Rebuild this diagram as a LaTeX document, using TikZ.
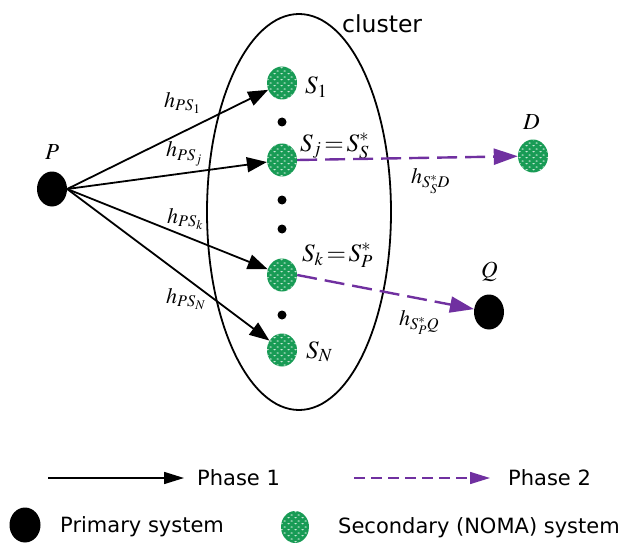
\documentclass[tikz,border=0pt]{standalone}
\usepackage{mathptmx}
\usepackage[no-math]{fontspec}
\setsansfont{DejaVu Sans}
\usetikzlibrary{arrows.meta,shapes.geometric,patterns.meta}
\definecolor{nomagreen}{RGB}{24,155,85}
\definecolor{phasepurple}{RGB}{112,48,160}
\tikzdeclarepattern{
  name=nomadots,
  type=uncolored,
  bounding box={(0pt,0pt) and (7pt,6pt)},
  tile size={(7pt,6pt)},
  code={
    \fill (1.75pt,1.5pt) ellipse [x radius=1.6pt, y radius=0.75pt];
    \fill (5.25pt,4.5pt) ellipse [x radius=1.6pt, y radius=0.75pt];
  }
}
\tikzset{
  secnode/.style={ellipse, minimum width=30pt, minimum height=33pt, inner sep=0pt,
    fill=nomagreen, postaction={pattern=nomadots, pattern color=white!75!nomagreen}},
  prinode/.style={ellipse, fill=black, minimum width=30pt, minimum height=35pt, inner sep=0pt},
  dotnode/.style={circle, fill=black, minimum size=9pt, inner sep=0pt},
  ph1/.style={line width=1.8pt, -{Triangle[length=20pt,width=15pt]}},
  ph2/.style={phasepurple, line width=2.4pt, dash pattern=on 20pt off 8pt, -{Triangle[length=24pt,width=16pt]}},
  mlab/.style={font=\fontsize{25}{27}\selectfont, inner sep=0pt, anchor=base west},
  hlab/.style={font=\fontsize{22}{24}\selectfont, inner sep=0pt, anchor=base west},
  leg/.style={font=\sffamily\fontsize{21}{24}\selectfont, anchor=base west, inner sep=0pt}
}
\begin{document}
\begin{tikzpicture}[x=1pt,y=-1pt]
\useasboundingbox (0,0) rectangle (622,543);
% cluster
\node[draw, ellipse, line width=1.8pt, minimum width=184pt, minimum height=396pt, inner sep=0pt] (cluster) at (299,212) {};
\node[font=\sffamily\fontsize{23.5}{26}\selectfont, anchor=base west, inner sep=0pt] (clab) at (342,33) {cluster};
% nodes
\node[prinode] (P) at (52,189) {};
\node[mlab, font=\fontsize{23}{25}\selectfont] (Plab) at (45,160) {$P$};
\node[secnode] (S1) at (282,83) {};
\node[secnode] (Sj) at (282,160) {};
\node[secnode] (Sk) at (282,275) {};
\node[secnode] (SN) at (282,350) {};
\node[dotnode] (d1) at (282,122) {};
\node[dotnode] (d2) at (282,200) {};
\node[dotnode] (d3) at (282,229) {};
\node[dotnode] (d4) at (282,315) {};
\node[secnode] (D) at (533,156) {};
\node[mlab, font=\fontsize{23}{25}\selectfont] (Dlab) at (523,130) {$D$};
\node[prinode] (Q) at (489,312) {};
\node[mlab, font=\fontsize{23}{25}\selectfont] (Qlab) at (481,277) {$Q$};
% node labels
\node[mlab] (S1lab) at (305,94) {$S_1$};
\node[mlab] (Sjlab) at (300,151) {$S_j\,{=}\,S_S^*$};
\node[mlab] (Sklab) at (302,261) {$S_k\,{=}\,S_P^*$};
\node[mlab] (SNlab) at (306,358) {$S_N$};
% phase 1 arrows
\draw[ph1] (P.east) -- (S1);
\draw[ph1] (P.east) -- (Sj);
\draw[ph1] (P.east) -- (Sk);
\draw[ph1] (P.east) -- (SN);
\node[hlab] (h1) at (164,107) {$h_{PS_1}$};
\node[hlab] (hj) at (166,157) {$h_{PS_j}$};
\node[hlab] (hk) at (167,223) {$h_{PS_k}$};
\node[hlab] (hN) at (166,303) {$h_{PS_N}$};
% phase 2 arrows
\draw[ph2] (Sj.east) -- (D);
\draw[ph2] (Sk.east) -- (Q);
\node[hlab] (hD) at (411,183) {$h_{S_S^*D}$};
\node[hlab] (hQ) at (399,325) {$h_{S_P^*Q}$};
% legend
\coordinate (l1a) at (48,478);
\coordinate (l1b) at (184,478);
\draw[line width=1.6pt, -{Triangle[length=20pt,width=12pt]}] (l1a) -- (l1b);
\node[leg] (l1t) at (197,485) {Phase 1};
\coordinate (l2a) at (354,478);
\coordinate (l2b) at (490,478);
\draw[phasepurple, line width=1.6pt, dash pattern=on 11pt off 6pt, -{Triangle[length=20pt,width=12pt]}] (l2a) -- (l2b);
\node[leg] (l2t) at (508,485) {Phase 2};
\node[prinode, minimum width=31pt, minimum height=35pt] (lp) at (25,525) {};
\node[leg] (lpt) at (60,532) {Primary system};
\node[secnode, minimum width=28pt, minimum height=32pt] (ls) at (295,527) {};
\node[leg] (lst) at (338,533) {Secondary (NOMA) system};
\end{tikzpicture}
\end{document}
